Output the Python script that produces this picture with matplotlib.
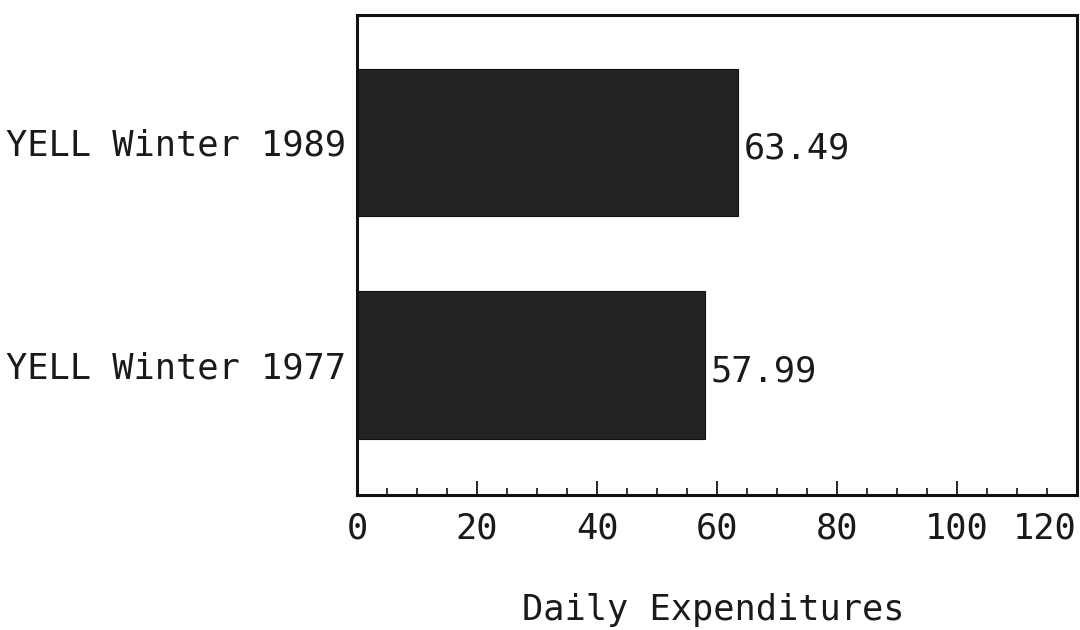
import matplotlib.pyplot as plt
from matplotlib.ticker import MultipleLocator

# ------------------------------
# Data
# ------------------------------
categories = ["YELL Winter 1977", "YELL Winter 1989"]
expenditures = [57.99, 63.49]
value_labels = ["57.99", "63.49"]
x_ticks = [0, 20, 40, 60, 80, 100, 120]

FS = 25.5
plt.rcParams["font.family"] = ["DejaVu Sans Mono"]
plt.rcParams["font.size"] = FS

fig = plt.figure(figsize=(10.8, 6.3), dpi=100)
ax = fig.add_axes([357 / 1080, 1 - 495 / 630, 720 / 1080, 480 / 630])

y_pos = list(range(len(categories)))
ax.barh(y_pos, expenditures, height=0.66, color="#232323", edgecolor="#111111", linewidth=0.8)

# value labels just right of each bar
for y, v, s in zip(y_pos, expenditures, value_labels):
    ax.text(v + 1.0, y - 0.03, s, va="center", ha="left", fontsize=FS, color="#1a1a1a")

ax.set_xlim(0, 120)
ax.set_ylim(-0.583, 1.57)

ax.set_yticks(y_pos)
ax.set_yticklabels(categories, color="#1a1a1a")
ax.tick_params(axis="y", length=0, pad=8)

ax.set_xticks(x_ticks)
ax.set_xticklabels([str(t) for t in x_ticks], color="#1a1a1a")
ax.xaxis.set_minor_locator(MultipleLocator(5))
ax.tick_params(axis="x", which="major", direction="in", length=10, width=1.2, pad=12, top=False)
ax.tick_params(axis="x", which="minor", direction="in", length=5, width=1.1, top=False)
ax.get_xticklabels()[-1].set_horizontalalignment("right")

for side in ["left", "right", "top", "bottom"]:
    ax.spines[side].set_linewidth(2.2)
    ax.spines[side].set_color("#111111")

ax.set_xlabel("Daily Expenditures", fontsize=FS, color="#1a1a1a")
ax.xaxis.set_label_coords(0.495, -0.24)
ax.xaxis.label.set_verticalalignment("center")

fig.savefig("out.png", dpi=100, facecolor="white")
